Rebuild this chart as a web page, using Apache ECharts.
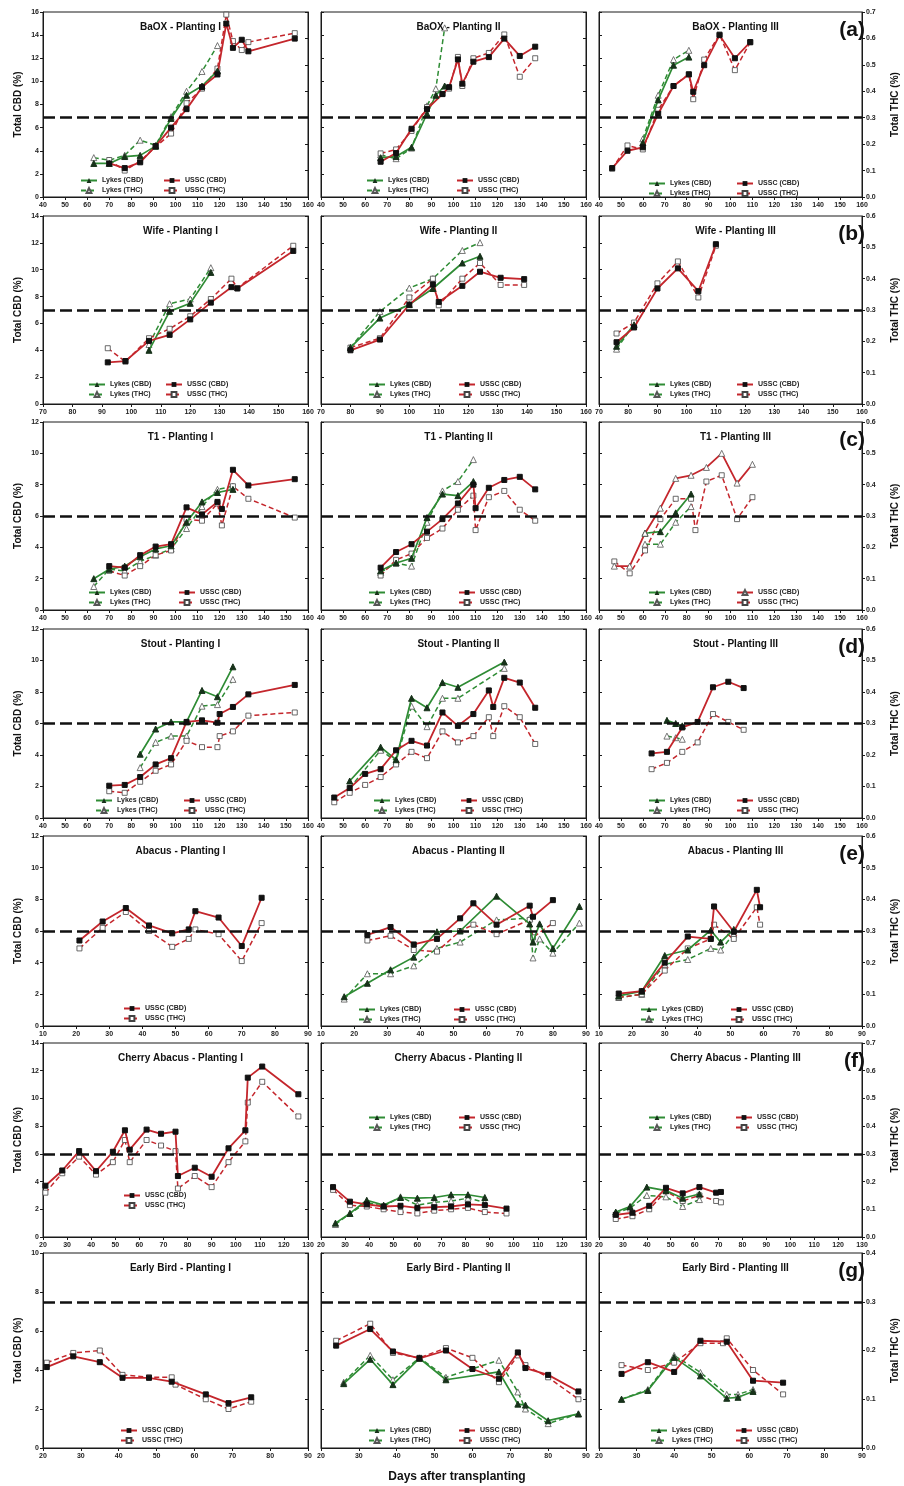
<!DOCTYPE html>
<html><head><meta charset="utf-8">
<script src="https://cdn.jsdelivr.net/npm/echarts@6.0.0/dist/echarts.min.js"></script>
<style>html,body{margin:0;padding:0;background:#fff}#c{width:904px;height:1486px}</style>
</head><body><div id="c"></div>
<script>
// ---------- DATA: [day, value] ----------
// (a) BaOX
const baoxI_lykesCBD = [[63,2.9],[70,2.9],[77,3.5],[84,3.6],[91,4.4],[98,6.8],[105,8.8],[112,9.6],[119,10.9]];
const baoxI_lykesTHC = [[63,0.149],[70,0.139],[77,0.158],[84,0.215],[91,0.196],[98,0.304],[105,0.40],[112,0.475],[119,0.573]];
const baoxI_usscCBD = [[70,2.9],[77,2.5],[84,3.0],[91,4.4],[98,6.0],[105,7.6],[112,9.5],[119,10.6],[123,15.0],[126,12.9],[130,13.6],[133,12.6],[154,13.7]];
const baoxI_usscTHC = [[70,0.14],[77,0.10],[84,0.136],[91,0.19],[98,0.24],[105,0.355],[112,0.41],[119,0.486],[123,0.69],[126,0.59],[130,0.556],[133,0.586],[154,0.62]];
const baoxII_lykesCBD = [[67,3.4],[74,3.5],[81,4.3],[88,7.2],[92,8.8],[96,9.6]];
const baoxII_lykesTHC = [[67,0.16],[74,0.145],[81,0.185],[88,0.345],[92,0.41],[96,0.64]];
const baoxII_usscCBD = [[67,3.05],[74,3.8],[81,5.9],[88,7.6],[95,8.9],[98,9.5],[102,11.9],[104,9.8],[109,11.7],[116,12.1],[123,13.7],[130,12.2],[137,13.0]];
const baoxII_usscTHC = [[67,0.165],[74,0.18],[81,0.25],[88,0.34],[95,0.39],[98,0.41],[102,0.53],[104,0.42],[109,0.525],[116,0.545],[123,0.615],[130,0.455],[137,0.525]];
const baoxIII_lykesCBD = [[60,4.7],[67,8.4],[74,11.4],[81,12.1]];
const baoxIII_lykesTHC = [[60,0.22],[67,0.385],[74,0.52],[81,0.555]];
const baoxIII_usscCBD = [[46,2.5],[53,4.0],[60,4.3],[67,7.2],[74,9.6],[81,10.6],[83,9.1],[88,11.4],[95,14.0],[102,12.0],[109,13.4]];
const baoxIII_usscTHC = [[46,0.107],[53,0.195],[60,0.18],[67,0.33],[74,0.42],[81,0.465],[83,0.37],[88,0.52],[95,0.615],[102,0.48],[109,0.585]];
// (b) Wife
const wifeI_lykesCBD = [[106,4.0],[113,6.9],[120,7.5],[127,9.8]];
const wifeI_lykesTHC = [[106,0.19],[113,0.32],[120,0.335],[127,0.435]];
const wifeI_usscCBD = [[92,3.1],[98,3.2],[106,4.7],[113,5.15],[120,6.3],[127,7.55],[134,8.7],[136,8.6],[155,11.4]];
const wifeI_usscTHC = [[92,0.178],[98,0.135],[106,0.21],[113,0.24],[120,0.28],[127,0.335],[134,0.40],[136,0.37],[155,0.505]];
const wifeII_lykesCBD = [[80,4.2],[90,6.4],[100,7.4],[108,8.6],[118,10.5],[124,11.0]];
const wifeII_lykesTHC = [[80,0.18],[90,0.295],[100,0.37],[108,0.40],[118,0.49],[124,0.515]];
const wifeII_usscCBD = [[80,4.0],[90,4.8],[100,7.4],[108,8.9],[110,7.6],[118,8.8],[124,9.85],[131,9.4],[139,9.3]];
const wifeII_usscTHC = [[80,0.18],[90,0.21],[100,0.34],[108,0.40],[110,0.315],[118,0.40],[124,0.45],[131,0.38],[139,0.38]];
const wifeIII_lykesCBD = [[76,4.3],[82,5.9]];
const wifeIII_lykesTHC = [[76,0.175],[82,0.255]];
const wifeIII_usscCBD = [[76,4.6],[82,5.7],[90,8.6],[97,10.1],[104,8.4],[110,11.9]];
const wifeIII_usscTHC = [[76,0.225],[82,0.26],[90,0.385],[97,0.455],[104,0.34],[110,0.505]];
// (c) T1
const t1I_lykesCBD = [[63,2.0],[70,2.6],[77,2.8],[84,3.4],[91,3.9],[98,4.1],[105,5.6],[112,6.9],[119,7.5],[126,7.7]];
const t1I_lykesTHC = [[63,0.075],[70,0.13],[77,0.125],[84,0.155],[91,0.175],[98,0.195],[105,0.26],[112,0.33],[119,0.385],[126,0.395]];
const t1I_usscCBD = [[70,2.8],[77,2.7],[84,3.5],[91,4.05],[98,4.2],[105,6.55],[112,6.1],[119,6.9],[121,6.45],[126,8.95],[133,7.95],[154,8.35]];
const t1I_usscTHC = [[70,0.125],[77,0.11],[84,0.14],[91,0.175],[98,0.19],[105,0.29],[112,0.285],[119,0.34],[121,0.27],[126,0.395],[133,0.355],[154,0.295]];
const t1II_lykesCBD = [[67,2.5],[74,3.0],[81,3.3],[88,5.9],[95,7.4],[102,7.3],[109,8.2]];
const t1II_lykesTHC = [[67,0.12],[74,0.15],[81,0.14],[88,0.28],[95,0.38],[102,0.41],[109,0.48]];
const t1II_usscCBD = [[67,2.7],[74,3.7],[81,4.2],[88,5.0],[95,5.8],[102,6.8],[109,8.0],[110,6.5],[116,7.8],[123,8.3],[130,8.5],[137,7.7]];
const t1II_usscTHC = [[67,0.11],[74,0.16],[81,0.18],[88,0.23],[95,0.26],[102,0.32],[109,0.365],[110,0.255],[116,0.36],[123,0.38],[130,0.32],[137,0.285]];
const t1III_lykesCBD = [[61,4.9],[68,5.0],[75,6.2],[82,7.4]];
const t1III_lykesTHC = [[61,0.21],[68,0.21],[75,0.28],[82,0.33]];
const t1III_usscCBD = [[47,2.8],[54,2.8],[61,4.9],[68,6.5],[75,8.4],[82,8.6],[89,9.1],[96,10.0],[103,8.1],[110,9.3]];
const t1III_usscTHC = [[47,0.155],[54,0.117],[61,0.19],[68,0.29],[75,0.355],[82,0.355],[84,0.255],[89,0.41],[96,0.43],[103,0.29],[110,0.36]];
// (d) Stout
const stoutI_lykesCBD = [[84,4.05],[91,5.65],[98,6.1],[105,6.1],[112,8.1],[119,7.7],[126,9.6]];
const stoutI_lykesTHC = [[84,0.16],[91,0.24],[98,0.26],[105,0.26],[112,0.355],[119,0.36],[126,0.44]];
const stoutI_usscCBD = [[70,2.05],[77,2.1],[84,2.6],[91,3.4],[98,3.8],[105,6.1],[112,6.2],[119,6.05],[120,6.6],[126,7.05],[133,7.85],[154,8.45]];
const stoutI_usscTHC = [[70,0.085],[77,0.08],[84,0.115],[91,0.15],[98,0.17],[105,0.245],[112,0.225],[119,0.225],[120,0.26],[126,0.275],[133,0.325],[154,0.335]];
const stoutII_lykesCBD = [[53,2.35],[67,4.5],[74,3.7],[81,7.6],[88,7.0],[95,8.6],[102,8.3],[123,9.9]];
const stoutII_lykesTHC = [[53,0.095],[67,0.215],[74,0.18],[81,0.355],[88,0.29],[95,0.38],[102,0.38],[123,0.475]];
const stoutII_usscCBD = [[46,1.3],[53,1.9],[60,2.8],[67,3.1],[74,4.3],[81,4.9],[88,4.6],[95,6.7],[102,5.85],[109,6.6],[116,8.1],[118,7.05],[123,8.9],[130,8.6],[137,7.0]];
const stoutII_usscTHC = [[46,0.05],[53,0.08],[60,0.105],[67,0.13],[74,0.17],[81,0.21],[88,0.19],[95,0.275],[102,0.24],[109,0.26],[116,0.32],[118,0.26],[123,0.355],[130,0.32],[137,0.235]];
const stoutIII_lykesCBD = [[71,6.2],[75,6.0],[78,5.85]];
const stoutIII_lykesTHC = [[71,0.26],[75,0.255],[78,0.25]];
const stoutIII_usscCBD = [[64,4.1],[71,4.2],[78,5.75],[85,6.1],[92,8.3],[99,8.65],[106,8.25]];
const stoutIII_usscTHC = [[64,0.155],[71,0.175],[78,0.21],[85,0.24],[92,0.33],[99,0.305],[106,0.28]];
// (e) Abacus
const abacusI_usscCBD = [[21,5.4],[28,6.6],[35,7.45],[42,6.35],[49,5.85],[54,6.1],[56,7.25],[63,6.85],[70,5.05],[76,8.1]];
const abacusI_usscTHC = [[21,0.245],[28,0.31],[35,0.36],[42,0.30],[49,0.25],[54,0.275],[56,0.305],[63,0.29],[70,0.205],[76,0.325]];
const abacusII_lykesCBD = [[17,1.85],[24,2.7],[31,3.55],[38,4.35],[45,5.95],[52,6.0],[63,8.2],[73,6.45],[74,5.3],[76,6.45],[80,4.9],[88,7.55]];
const abacusII_lykesTHC = [[17,0.085],[24,0.165],[31,0.165],[38,0.19],[45,0.245],[52,0.265],[63,0.335],[73,0.34],[74,0.215],[76,0.275],[80,0.23],[88,0.325]];
const abacusII_usscCBD = [[24,5.75],[31,6.25],[38,5.15],[45,5.5],[52,6.8],[56,7.75],[63,6.4],[73,7.6],[74,6.9],[80,7.95]];
const abacusII_usscTHC = [[24,0.27],[31,0.285],[38,0.24],[45,0.235],[52,0.30],[56,0.32],[63,0.29],[73,0.335],[74,0.28],[80,0.325]];
const abacusIII_lykesCBD = [[16,1.9],[23,2.2],[30,4.45],[37,4.8],[44,6.05],[47,5.3],[51,6.1]];
const abacusIII_lykesTHC = [[16,0.09],[23,0.10],[30,0.195],[37,0.21],[44,0.245],[47,0.24],[51,0.29]];
const abacusIII_usscCBD = [[16,2.05],[23,2.2],[30,4.0],[37,5.65],[44,5.5],[45,7.55],[51,5.95],[58,8.6],[59,7.5]];
const abacusIII_usscTHC = [[16,0.09],[23,0.10],[30,0.175],[37,0.245],[44,0.275],[45,0.32],[51,0.275],[58,0.375],[59,0.32]];
// (f) Cherry Abacus
const cherryI_usscCBD = [[21,3.7],[28,4.8],[35,6.2],[42,4.75],[49,6.15],[54,7.7],[56,6.3],[63,7.75],[69,7.45],[75,7.6],[76,4.4],[83,5.0],[90,4.35],[97,6.4],[104,7.7],[105,11.5],[111,12.3],[126,10.3]];
const cherryI_usscTHC = [[21,0.16],[28,0.23],[35,0.29],[42,0.225],[49,0.27],[54,0.35],[56,0.27],[63,0.35],[69,0.33],[75,0.31],[76,0.175],[83,0.22],[90,0.18],[97,0.27],[104,0.345],[105,0.485],[111,0.56],[126,0.435]];
const cherryII_lykesCBD = [[26,1.0],[32,1.7],[39,2.65],[46,2.3],[53,2.85],[60,2.8],[67,2.85],[74,3.05],[81,3.05],[88,2.85]];
const cherryII_lykesTHC = [[26,0.045],[32,0.085],[39,0.125],[46,0.11],[53,0.145],[60,0.115],[67,0.125],[74,0.13],[81,0.14],[88,0.125]];
const cherryII_usscCBD = [[25,3.6],[32,2.55],[39,2.35],[46,2.2],[53,2.25],[60,2.1],[67,2.15],[74,2.2],[81,2.35],[88,2.3],[97,2.05]];
const cherryII_usscTHC = [[25,0.17],[32,0.115],[39,0.11],[46,0.10],[53,0.09],[60,0.085],[67,0.095],[74,0.10],[81,0.105],[88,0.09],[97,0.085]];
const cherryIII_lykesCBD = [[27,1.8],[33,2.2],[40,3.6],[48,3.35],[55,2.8],[62,3.1]];
const cherryIII_lykesTHC = [[27,0.085],[33,0.105],[40,0.15],[48,0.145],[55,0.11],[62,0.135]];
const cherryIII_usscCBD = [[27,1.6],[34,1.75],[41,2.25],[48,3.55],[55,3.15],[62,3.6],[69,3.2],[71,3.25]];
const cherryIII_usscTHC = [[27,0.065],[34,0.075],[41,0.10],[48,0.165],[55,0.13],[62,0.15],[69,0.13],[71,0.125]];
// (g) Early Bird
const ebI_usscCBD = [[21,4.15],[28,4.7],[35,4.4],[41,3.6],[48,3.6],[54,3.4],[63,2.75],[69,2.3],[75,2.6]];
const ebI_usscTHC = [[21,0.175],[28,0.195],[35,0.20],[41,0.15],[48,0.145],[54,0.145],[55,0.13],[63,0.10],[69,0.08],[75,0.095]];
const ebII_lykesCBD = [[26,3.3],[33,4.55],[39,3.25],[46,4.6],[53,3.5],[67,3.9],[72,2.25],[74,2.2],[80,1.4],[88,1.75]];
const ebII_lykesTHC = [[26,0.135],[33,0.19],[39,0.14],[46,0.185],[53,0.145],[67,0.18],[72,0.115],[74,0.08],[80,0.05],[88,0.07]];
const ebII_usscCBD = [[24,5.25],[33,6.1],[39,4.95],[46,4.6],[53,5.0],[60,4.05],[67,3.55],[72,4.9],[74,4.1],[80,3.75],[88,2.9]];
const ebII_usscTHC = [[24,0.22],[33,0.255],[39,0.195],[46,0.185],[53,0.205],[60,0.185],[67,0.135],[72,0.19],[74,0.17],[80,0.145],[88,0.10]];
const ebIII_lykesCBD = [[26,2.5],[33,2.95],[40,4.65],[47,3.7],[54,2.55],[57,2.6],[61,2.9]];
const ebIII_lykesTHC = [[26,0.10],[33,0.12],[40,0.19],[47,0.155],[54,0.11],[57,0.11],[61,0.12]];
const ebIII_usscCBD = [[26,3.8],[33,4.4],[40,3.9],[47,5.5],[54,5.45],[61,3.45],[69,3.35]];
const ebIII_usscTHC = [[26,0.17],[33,0.16],[40,0.175],[47,0.215],[53,0.215],[54,0.225],[61,0.16],[69,0.11]];

const rowLetters = ['(a)','(b)','(c)','(d)','(e)','(f)','(g)'];
const panelTitles = [
 ['BaOX - Planting I','BaOX - Planting II','BaOX - Planting III'],
 ['Wife - Planting I','Wife - Planting II','Wife - Planting III'],
 ['T1 - Planting I','T1 - Planting II','T1 - Planting III'],
 ['Stout - Planting I','Stout - Planting II','Stout - Planting III'],
 ['Abacus - Planting I','Abacus - Planting II','Abacus - Planting III'],
 ['Cherry Abacus - Planting I','Cherry Abacus - Planting II','Cherry Abacus - Planting III'],
 ['Early Bird - Planting I','Early Bird - Planting II','Early Bird - Planting III']
];
const xRanges = [[40,160],[70,160],[40,160],[40,160],[10,90],[20,130],[20,90]];
const cbdMax = [16,14,12,12,12,14,10];
const thcMax = [0.7,0.6,0.6,0.6,0.6,0.7,0.4];

// ---------- LAYOUT ----------
const COLS = [{l:43,w:265},{l:321,w:265},{l:599,w:263}];
const ROWS = [{t:12,b:197},{t:216,b:404},{t:422,b:610},{t:629,b:818},{t:836,b:1026},{t:1043,b:1237},{t:1253,b:1448}];
// legend positions: [lykesX, usscX, top]
const LEG = [
 [[80,163,177],[366,456,177],[648,736,180]],
 [[88,165,381],[368,458,381],[648,736,381]],
 [[88,178,589],[368,458,589],[648,736,589]],
 [[95,183,797],[373,460,797],[648,736,797]],
 [[null,123,1005],[358,453,1006],[640,730,1006]],
 [[null,123,1192],[368,458,1114],[648,735,1114]],
 [[null,120,1427],[368,458,1427],[650,735,1427]]
];
const DATA = [
 [[baoxI_lykesCBD,baoxI_lykesTHC,baoxI_usscCBD,baoxI_usscTHC],[baoxII_lykesCBD,baoxII_lykesTHC,baoxII_usscCBD,baoxII_usscTHC],[baoxIII_lykesCBD,baoxIII_lykesTHC,baoxIII_usscCBD,baoxIII_usscTHC]],
 [[wifeI_lykesCBD,wifeI_lykesTHC,wifeI_usscCBD,wifeI_usscTHC],[wifeII_lykesCBD,wifeII_lykesTHC,wifeII_usscCBD,wifeII_usscTHC],[wifeIII_lykesCBD,wifeIII_lykesTHC,wifeIII_usscCBD,wifeIII_usscTHC]],
 [[t1I_lykesCBD,t1I_lykesTHC,t1I_usscCBD,t1I_usscTHC],[t1II_lykesCBD,t1II_lykesTHC,t1II_usscCBD,t1II_usscTHC],[t1III_lykesCBD,t1III_lykesTHC,t1III_usscCBD,t1III_usscTHC]],
 [[stoutI_lykesCBD,stoutI_lykesTHC,stoutI_usscCBD,stoutI_usscTHC],[stoutII_lykesCBD,stoutII_lykesTHC,stoutII_usscCBD,stoutII_usscTHC],[stoutIII_lykesCBD,stoutIII_lykesTHC,stoutIII_usscCBD,stoutIII_usscTHC]],
 [[null,null,abacusI_usscCBD,abacusI_usscTHC],[abacusII_lykesCBD,abacusII_lykesTHC,abacusII_usscCBD,abacusII_usscTHC],[abacusIII_lykesCBD,abacusIII_lykesTHC,abacusIII_usscCBD,abacusIII_usscTHC]],
 [[null,null,cherryI_usscCBD,cherryI_usscTHC],[cherryII_lykesCBD,cherryII_lykesTHC,cherryII_usscCBD,cherryII_usscTHC],[cherryIII_lykesCBD,cherryIII_lykesTHC,cherryIII_usscCBD,cherryIII_usscTHC]],
 [[null,null,ebI_usscCBD,ebI_usscTHC],[ebII_lykesCBD,ebII_lykesTHC,ebII_usscCBD,ebII_usscTHC],[ebIII_lykesCBD,ebIII_lykesTHC,ebIII_usscCBD,ebIII_usscTHC]]
];

const G = '#2f8c35', R = '#c4262c', K = '#1a1a1a';
const FONT = "'Liberation Sans', Arial, sans-serif";
const NARROW = "'Liberation Sans Narrow', 'Liberation Sans', Arial, sans-serif";

const grid = [], xAxis = [], yAxis = [], series = [], legend = [], title = [];
let gi = 0;
for (let r = 0; r < 7; r++) {
  const R0 = ROWS[r];
  for (let c = 0; c < 3; c++) {
    const C = COLS[c];
    grid.push({left:C.l, top:R0.t, width:C.w, height:R0.b-R0.t, show:true, borderColor:K, borderWidth:1, backgroundColor:'transparent'});
    xAxis.push({type:'value', gridIndex:gi, min:xRanges[r][0], max:xRanges[r][1], interval:10,
      axisLine:{show:true, onZero:false, lineStyle:{color:K,width:1}},
      axisTick:{show:true, length:3, lineStyle:{color:K}},
      axisLabel:{show:true, fontSize:7, fontWeight:'bold', color:'#222', margin:5, fontFamily:FONT, showMinLabel:true, showMaxLabel:true, hideOverlap:false},
      splitLine:{show:false}});
    yAxis.push({type:'value', gridIndex:gi, position:'left', min:0, max:cbdMax[r], interval:2,
      name: c===0 ? 'Total CBD (%)' : '', nameLocation:'middle', nameGap:20, nameRotate:90,
      nameTextStyle:{fontSize:10, fontWeight:'bold', color:'#111', fontFamily:FONT},
      axisLine:{show:true, onZero:false, lineStyle:{color:K,width:1}},
      axisTick:{show:true, inside:c!==0, length:3, lineStyle:{color:K}},
      axisLabel:{show:c===0, fontSize:7, fontWeight:'bold', color:'#222', margin:4, fontFamily:FONT},
      splitLine:{show:false}});
    yAxis.push({type:'value', gridIndex:gi, position:'right', min:0, max:thcMax[r], interval:0.1,
      name: c===2 ? 'Total THC (%)' : '', nameLocation:'middle', nameGap:28, nameRotate:90,
      nameTextStyle:{fontSize:10, fontWeight:'bold', color:'#111', fontFamily:FONT},
      axisLine:{show:true, onZero:false, lineStyle:{color:K,width:1}},
      axisTick:{show:true, inside:c!==2, length:3, lineStyle:{color:K}},
      axisLabel:{show:c===2, fontSize:7, fontWeight:'bold', color:'#222', margin:4, fontFamily:FONT, formatter:v=>v.toFixed(1)},
      splitLine:{show:false}});
    const d = DATA[r][c];
    const triUssc = (r===2 && c===2);
    const uName = triUssc ? 'USSC (CBD) ' : 'USSC (CBD)';
    if (d[0]) {
      series.push({type:'line', name:'Lykes (CBD)', xAxisIndex:gi, yAxisIndex:2*gi, data:d[0], symbol:'triangle', symbolSize:6,
        lineStyle:{color:G,width:1.7}, itemStyle:{color:'#17321a', borderColor:'#17321a'}, z:4});
      series.push({type:'line', name:'Lykes (THC)', xAxisIndex:gi, yAxisIndex:2*gi+1, data:d[1], symbol:'triangle', symbolSize:6,
        lineStyle:{color:G,width:1.5,type:[5,3]}, itemStyle:{color:'#fff', borderColor:'#555', borderWidth:0.8}, z:3});
    }
    series.push({type:'line', name:uName, xAxisIndex:gi, yAxisIndex:2*gi, data:d[2],
      symbol: triUssc ? 'triangle' : 'rect', symbolSize: triUssc ? 6 : 5,
      lineStyle:{color:R,width:1.8}, itemStyle: triUssc ? {color:'#fff', borderColor:'#555', borderWidth:0.8} : {color:'#111', borderColor:'#111'}, z:4});
    series.push({type:'line', name:'USSC (THC)', xAxisIndex:gi, yAxisIndex:2*gi+1, data:d[3], symbol:'rect', symbolSize:5,
      lineStyle:{color:R,width:1.5,type:[5,3]}, itemStyle:{color:'#fff', borderColor:'#444', borderWidth:0.8}, z:3,
      markLine:{silent:true, symbol:['none','none'], label:{show:false}, animation:false,
        lineStyle:{color:'#111', width:2.6, type:[12,5]}, data:[{yAxis:0.3}]}});
    const L = LEG[r][c];
    const legBase = {orient:'vertical', top:L[2], itemWidth:16, itemHeight:6, itemGap:3, padding:0, selectedMode:false,
      textStyle:{fontSize:7, fontWeight:'bold', color:'#222', fontFamily:FONT}};
    if (L[0] !== null) legend.push(Object.assign({}, legBase, {left:L[0], data:['Lykes (CBD)','Lykes (THC)']}));
    legend.push(Object.assign({}, legBase, {left:L[1], data:[uName,'USSC (THC)']}));
    title.push({text:panelTitles[r][c], left:C.l + C.w/2, top:R0.t+5, textAlign:'center',
      textStyle:{fontSize:10, fontWeight:'bold', color:'#111', fontFamily:NARROW}});
    gi++;
  }
  title.push({text:rowLetters[r], left:860, top:R0.t+3, textAlign:'right',
    textStyle:{fontSize:21, fontWeight:'bold', color:'#111', fontFamily:NARROW}});
}
title.push({text:'Days after transplanting', left:452, top:1466, textAlign:'center',
  textStyle:{fontSize:12, fontWeight:'bold', color:'#111', fontFamily:FONT}});

const chart = echarts.init(document.getElementById('c'), null, {renderer:'canvas'});
chart.setOption({backgroundColor:'#fff', animation:false, title, grid, xAxis, yAxis, series, legend, tooltip:{show:false}});
</script></body></html>
